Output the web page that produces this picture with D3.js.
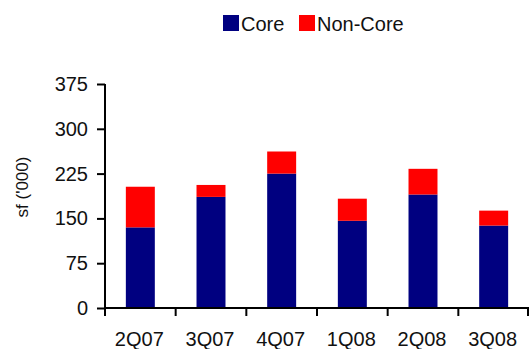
<!DOCTYPE html>
<html>
<head>
<meta charset="utf-8">
<script src="https://cdn.jsdelivr.net/npm/d3@7"></script>
<style>
  html, body { margin: 0; padding: 0; background: #fff; }
  svg { display: block; font-family: "Liberation Sans", Arial, sans-serif; }
</style>
</head>
<body>
<svg id="chart" width="529" height="349"></svg>
<script>
// Quarterly space, in thousand sq ft, split into core and non-core
const categories = ["2Q07", "3Q07", "4Q07", "1Q08", "2Q08", "3Q08"];
const coreValues = [135, 186, 225, 146, 190, 138];
const nonCoreValues = [68, 20, 37, 37, 43, 25];
const yTicks = [0, 75, 150, 225, 300, 375];
const seriesNames = ["Core", "Non-Core"];
const seriesColors = ["#000080", "#FF0000"];

const svg = d3.select("#chart");
const plotLeft = 105, plotRight = 529, plotTop = 84, plotBottom = 308;

const x = d3.scaleBand()
  .domain(categories)
  .range([plotLeft, plotRight])
  .paddingInner(0.59)
  .paddingOuter(0.295);

const y = d3.scaleLinear().domain([0, 375]).range([plotBottom, plotTop]);

const rows = categories.map((c, i) => ({ cat: c, Core: coreValues[i], "Non-Core": nonCoreValues[i] }));
const stacked = d3.stack().keys(seriesNames)(rows);

// Stacked bars
svg.append("g").selectAll("g")
  .data(stacked)
  .join("g")
  .attr("fill", (d, i) => seriesColors[i])
  .selectAll("rect")
  .data(d => d)
  .join("rect")
  .attr("x", d => x(d.data.cat))
  .attr("width", x.bandwidth())
  .attr("y", d => y(d[1]))
  .attr("height", d => y(d[0]) - y(d[1]));

// Y axis
const yAxis = svg.append("g")
  .attr("transform", `translate(${plotLeft},0)`)
  .call(d3.axisLeft(y).tickValues(yTicks).tickSize(8).tickPadding(9));
yAxis.select(".domain").attr("stroke", "#000").attr("stroke-width", 2)
  .attr("d", `M0,${plotBottom}V${plotTop}`);
yAxis.selectAll(".tick line").attr("stroke", "#000").attr("stroke-width", 2);
yAxis.selectAll(".tick text")
  .attr("fill", "#111")
  .style("font-size", "20px")
  .style("font-family", "'Liberation Sans', Arial, sans-serif");

// X axis with ticks at category boundaries
const xAxis = svg.append("g").attr("transform", `translate(0,${plotBottom})`);
xAxis.append("line")
  .attr("x1", plotLeft).attr("x2", plotRight)
  .attr("stroke", "#000").attr("stroke-width", 2);
const gap = (x.step() - x.bandwidth()) / 2;
const boundaries = categories.map(c => x(c) - gap).concat([plotRight - 1]);
xAxis.selectAll("line.tk")
  .data(boundaries)
  .join("line")
  .attr("class", "tk")
  .attr("x1", d => d).attr("x2", d => d)
  .attr("y1", 0).attr("y2", 8)
  .attr("stroke", "#000").attr("stroke-width", 2);
xAxis.selectAll("text")
  .data(categories)
  .join("text")
  .attr("x", d => x(d) + x.bandwidth() / 2 - 1)
  .attr("y", 38)
  .attr("text-anchor", "middle")
  .attr("fill", "#111")
  .style("font-size", "20px")
  .text(d => d);

// Y axis title
svg.append("text")
  .attr("transform", "translate(28,187) rotate(-90)")
  .attr("text-anchor", "middle")
  .attr("fill", "#111")
  .style("font-size", "17px")
  .text("sf ('000)");

// Legend
const legend = svg.append("g");
const legendX = [223, 299];
seriesNames.forEach((name, i) => {
  legend.append("rect")
    .attr("x", legendX[i]).attr("y", 15)
    .attr("width", 16).attr("height", 16)
    .attr("fill", seriesColors[i]);
  legend.append("text")
    .attr("x", legendX[i] + 18).attr("y", 30.5)
    .attr("fill", "#111")
    .style("font-size", "20px")
    .text(name);
});
</script>
</body>
</html>
